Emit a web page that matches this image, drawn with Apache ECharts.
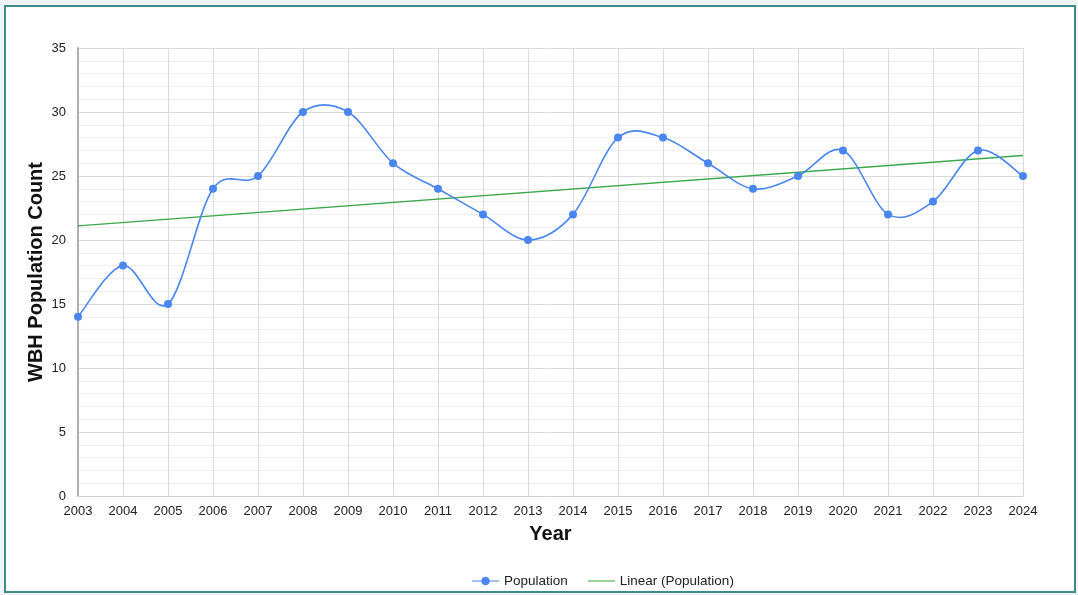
<!DOCTYPE html>
<html>
<head>
<meta charset="utf-8">
<script src="https://cdn.jsdelivr.net/npm/echarts@6/dist/echarts.min.js"></script>
<style>
html,body{margin:0;padding:0;width:1078px;height:595px;background:#eef3f5;overflow:hidden;}
#frame{position:absolute;left:4px;top:5px;width:1068px;height:584px;border:2px solid #3f8a8a;background:#fff;}
#chart{position:absolute;left:0;top:0;width:1078px;height:595px;}
</style>
</head>
<body>
<div id="frame"></div>
<div id="chart"></div>
<script>
const years = ['2003','2004','2005','2006','2007','2008','2009','2010','2011','2012','2013','2014','2015','2016','2017','2018','2019','2020','2021','2022','2023','2024'];
const population = [14,18,15,24,25,30,30,26,24,22,20,22,28,28,26,24,25,27,22,23,27,25];
const trendStart = 21.1;
const trendEnd = 26.6;
const yTicks = [0,5,10,15,20,25,30,35];

const trend = years.map((y,i)=> (i===0 ? trendStart : (i===years.length-1 ? trendEnd : null)));

const blue = '#4a86f0';
const green = '#3aa84a';

// smooth curve (Catmull-Rom style) through the library's coordinate system
function renderCurve(params, api){
  if (params.dataIndex !== 0) return null;
  const pts = population.map((v,i)=>api.coord([i, v]));
  const n = pts.length;
  let d = 'M' + pts[0][0] + ' ' + pts[0][1];
  for (let i=0;i<n-1;i++){
    const p0 = pts[Math.max(i-1,0)], p1 = pts[i], p2 = pts[i+1], p3 = pts[Math.min(i+2,n-1)];
    const c1x = p1[0] + (p2[0]-p0[0])/6, c1y = p1[1] + (p2[1]-p0[1])/6;
    const c2x = p2[0] - (p3[0]-p1[0])/6, c2y = p2[1] - (p3[1]-p1[1])/6;
    d += ' C' + c1x + ' ' + c1y + ' ' + c2x + ' ' + c2y + ' ' + p2[0] + ' ' + p2[1];
  }
  return {
    type:'path',
    shape:{pathData:d},
    style:{fill:null, stroke:blue, lineWidth:1.6},
    silent:true
  };
}

const chart = echarts.init(document.getElementById('chart'), null, {renderer:'canvas'});
chart.setOption({
  backgroundColor:'transparent',
  textStyle:{fontFamily:'Liberation Sans, Arial, sans-serif'},
  grid:{left:78,right:55,top:48,bottom:99,containLabel:false},
  legend:{
    bottom:7,left:472,padding:0,
    itemWidth:27,itemHeight:10,itemGap:20,
    textStyle:{fontSize:13.5,color:'#222'},
    data:[
      {name:'Population',icon:'path://M0,4.4 H28 V5.6 H0 Z M14,0.6 A4.4,4.4 0 1,1 14,9.4 A4.4,4.4 0 1,1 14,0.6 Z'},
      {name:'Linear (Population)',icon:'path://M0,0 H28 V1.1 H0 Z'}
    ]
  },
  xAxis:{
    type:'category',data:years,boundaryGap:false,
    name:'Year',nameLocation:'middle',nameGap:28,
    nameTextStyle:{fontSize:20,fontWeight:'bold',color:'#111'},
    axisLine:{lineStyle:{color:'#d0d0d0',width:1}},
    axisTick:{show:false},
    axisLabel:{fontSize:13,color:'#222',margin:9,interval:0},
    splitLine:{show:true,interval:0,lineStyle:{color:'#dcdcdc',width:1}}
  },
  yAxis:{
    type:'value',min:0,max:35,interval:5,
    name:'WBH Population Count',nameLocation:'middle',nameGap:32,nameMoveOverlap:false,
    nameTextStyle:{fontSize:20,fontWeight:'bold',color:'#111'},
    axisLine:{show:true,lineStyle:{color:'#b0b0b0',width:2}},
    axisTick:{show:false},
    axisLabel:{fontSize:13,color:'#222',margin:12,
      formatter:v=> yTicks.includes(v)? String(v):''},
    splitLine:{lineStyle:{color:'#dcdcdc',width:1}},
    minorTick:{show:false,splitNumber:5},
    minorSplitLine:{show:true,lineStyle:{color:'#efefef',width:1}}
  },
  series:[
    {
      name:'Population',type:'line',data:population,
      symbol:'circle',symbolSize:8,
      itemStyle:{color:blue},
      lineStyle:{color:blue,width:0,opacity:0},
      z:4
    },
    {
      name:'Population curve',type:'custom',data:population.map((v,i)=>[i,v]),
      renderItem:renderCurve,
      encode:{x:0,y:1},
      z:3
    },
    {
      name:'Linear (Population)',type:'line',data:trend,connectNulls:true,
      symbol:'none',
      itemStyle:{color:green},
      lineStyle:{color:green,width:1.3},
      z:2
    }
  ]
});
</script>
</body>
</html>
